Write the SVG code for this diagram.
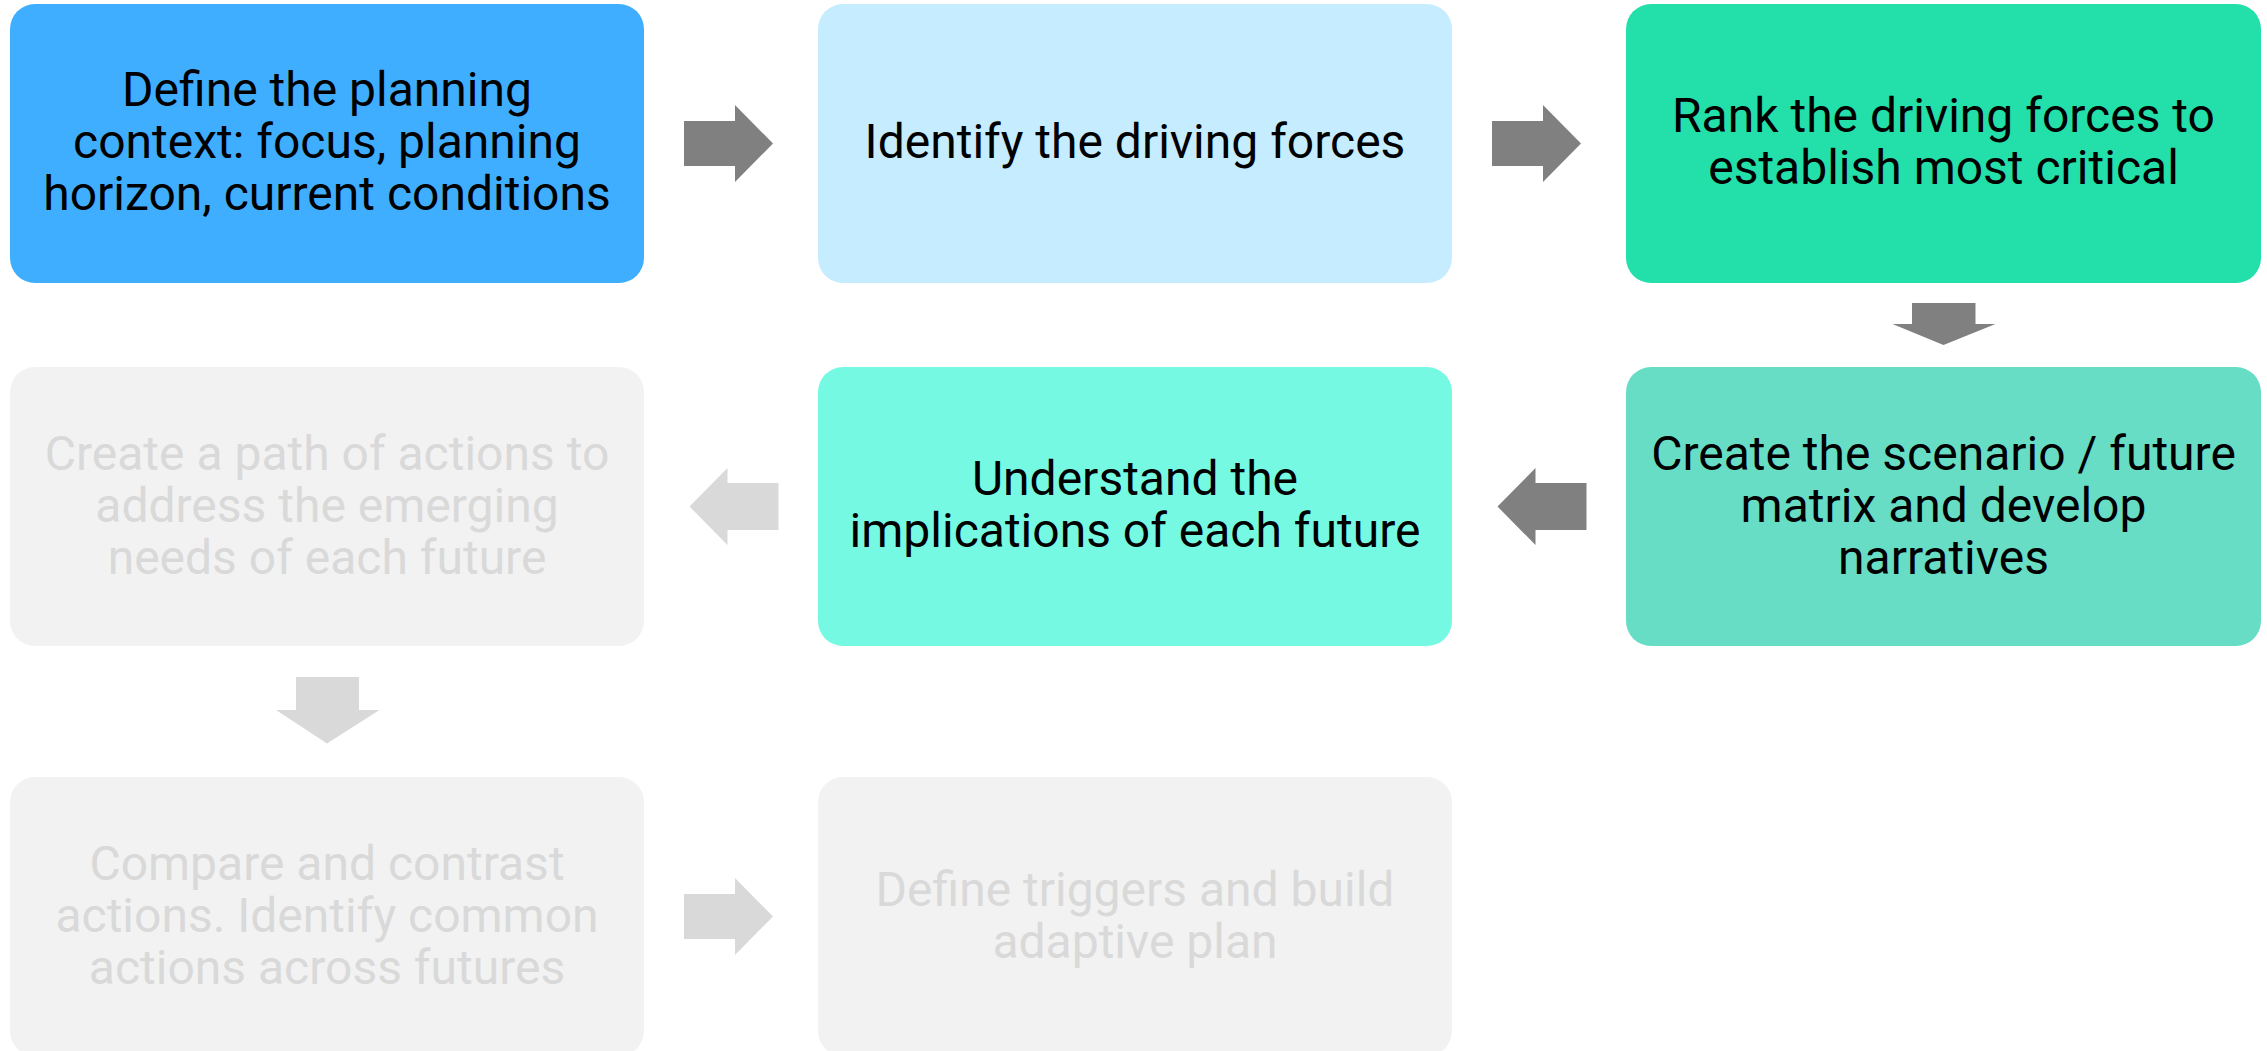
<svg xmlns="http://www.w3.org/2000/svg" width="2267" height="1051" viewBox="0 0 2267 1051">
<style>
  .box { stroke: none; }
  .t { font-family: Roboto, "Liberation Sans", sans-serif; font-size: 48px; text-anchor: middle; fill: #000000; }
  .tf { fill: #D9D9D9; }
  .a { fill: #808080; }
  .af { fill: #D9D9D9; }
</style>
<defs>
  <polygon id="ar" points="0,-22.5 51,-22.5 51,-38.5 89,0 51,38.5 51,22.5 0,22.5"/>
  <polygon id="al" points="0,0 38,-38.5 38,-23.5 89,-23.5 89,23.5 38,23.5 38,38.5"/>
</defs>
<rect width="2267" height="1051" fill="#FFFFFF"/>
<g id="n1">
  <rect class="box" x="10" y="4" width="634" height="279" rx="25" fill="#3FAEFF"/>
  <text class="t" x="327" y="106">Define the planning</text>
  <text class="t" x="327" y="158">context: focus, planning</text>
  <text class="t" x="327" y="210">horizon, current conditions</text>
</g>
<g id="n2">
  <rect class="box" x="818" y="4" width="634" height="279" rx="25" fill="#C5ECFF"/>
  <text class="t" x="1135" y="158">Identify the driving forces</text>
</g>
<g id="n3">
  <rect class="box" x="1626" y="4" width="635" height="279" rx="25" fill="#23DFA9"/>
  <text class="t" x="1943.5" y="132">Rank the driving forces to</text>
  <text class="t" x="1943.5" y="184">establish most critical</text>
</g>
<g id="n4">
  <rect class="box" x="1626" y="367" width="635" height="279" rx="25" fill="#68DDC6"/>
  <text class="t" x="1943.5" y="470">Create the scenario / future</text>
  <text class="t" x="1943.5" y="522">matrix and develop</text>
  <text class="t" x="1943.5" y="574">narratives</text>
</g>
<g id="n5">
  <rect class="box" x="818" y="367" width="634" height="279" rx="25" fill="#75F9E3"/>
  <text class="t" x="1135" y="495">Understand the</text>
  <text class="t" x="1135" y="547">implications of each future</text>
</g>
<g id="n6">
  <rect class="box" x="10" y="367" width="634" height="279" rx="25" fill="#F2F2F2"/>
  <text class="t tf" x="327" y="470">Create a path of actions to</text>
  <text class="t tf" x="327" y="522">address the emerging</text>
  <text class="t tf" x="327" y="574">needs of each future</text>
</g>
<g id="n7">
  <rect class="box" x="10" y="777" width="634" height="279" rx="25" fill="#F2F2F2"/>
  <text class="t tf" x="327" y="880">Compare and contrast</text>
  <text class="t tf" x="327" y="932">actions. Identify common</text>
  <text class="t tf" x="327" y="984">actions across futures</text>
</g>
<g id="n8">
  <rect class="box" x="818" y="777" width="634" height="279" rx="25" fill="#F2F2F2"/>
  <text class="t tf" x="1135" y="906">Define triggers and build</text>
  <text class="t tf" x="1135" y="958">adaptive plan</text>
</g>
<g id="connectors">
  <use href="#ar" class="a" x="684" y="143.5"/>
  <use href="#ar" class="a" x="1492" y="143.5"/>
  <polygon class="a" points="1912,303 1975.5,303 1975.5,324 1995.5,324 1943.5,345 1892.5,324 1912,324"/>
  <use href="#al" class="a" x="1497.5" y="506.5"/>
  <use href="#al" class="af" x="689.5" y="506.5"/>
  <polygon class="af" points="296,677 359,677 359,710 379.5,710 327,743.5 276,710 296,710"/>
  <use href="#ar" class="af" x="684" y="916.5"/>
</g>
</svg>
